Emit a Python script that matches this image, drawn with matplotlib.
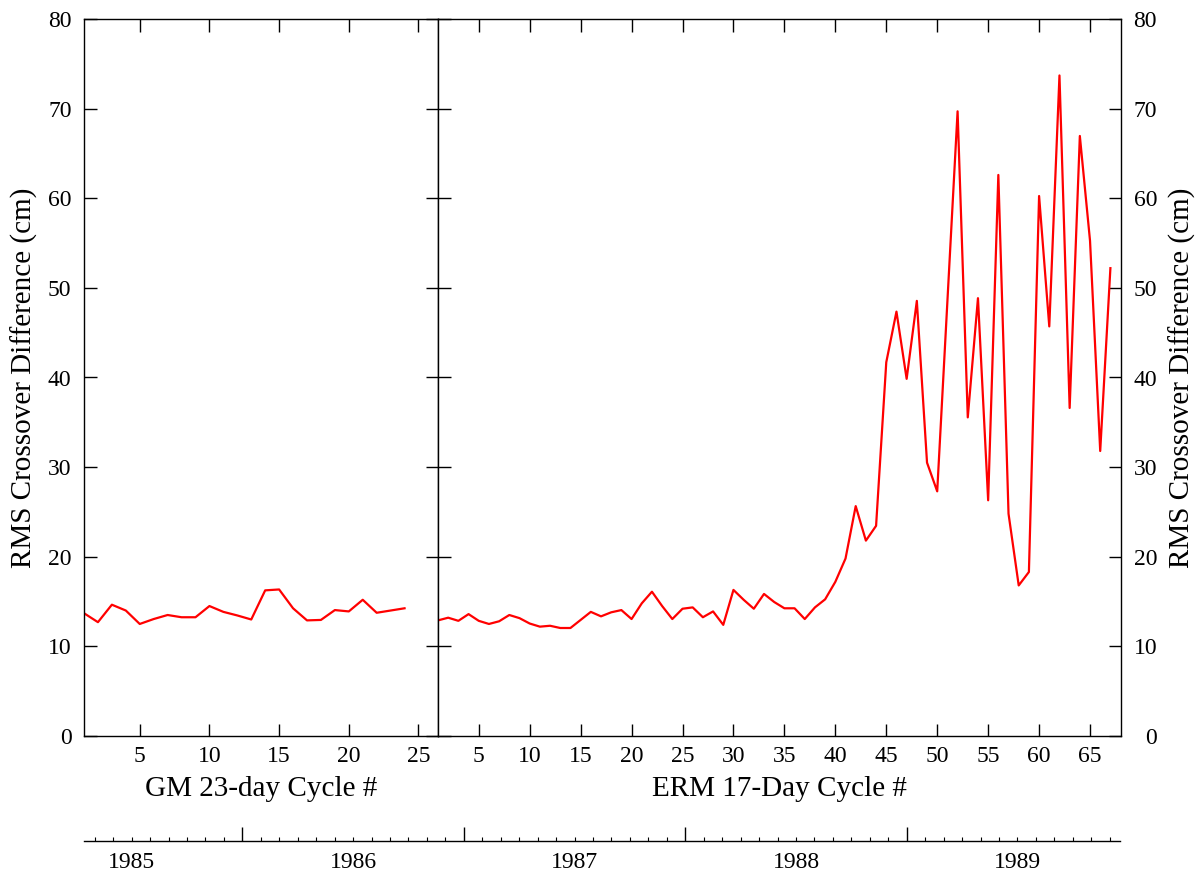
import matplotlib.pyplot as plt
from matplotlib.ticker import MultipleLocator

plt.rcParams['font.family'] = ['Liberation Serif', 'DejaVu Serif']

# GM 23-day cycles
gm_cycles = list(range(1, 25))
gm_rms = [13.7, 12.7, 14.65, 14.0, 12.5, 13.05, 13.5, 13.25, 13.25, 14.5,
          13.85, 13.45, 13.0, 16.25, 16.35, 14.25, 12.9, 12.95, 14.05, 13.9,
          15.2, 13.75, 14.0, 14.25]

# ERM 17-day cycles
erm_cycles = list(range(1, 68))
erm_rms = [12.9, 13.2, 12.85, 13.6, 12.85, 12.5, 12.8, 13.5, 13.15, 12.55,
           12.2, 12.3, 12.05, 12.05, 12.95, 13.85, 13.35, 13.8, 14.05, 13.05,
           14.8, 16.1, 14.5, 13.05, 14.2, 14.35, 13.25, 13.9, 12.4, 16.3,
           15.2, 14.2, 15.85, 14.95, 14.25, 14.25, 13.05, 14.35, 15.25, 17.2,
           19.8, 25.65, 21.8, 23.45, 41.7, 47.35, 39.85, 48.55, 30.5, 27.3,
           48.5, 69.7, 35.55, 48.85, 26.3, 62.6, 24.8, 16.8, 18.3, 60.25,
           45.7, 73.7, 36.6, 66.95, 55.25, 31.8, 52.2]

years = [1985, 1986, 1987, 1988, 1989]

FS = 17      # tick labels
LFS = 21     # axis titles
W, H = 1201, 872
fig = plt.figure(figsize=(W / 100, H / 100), dpi=100)

bot = 1 - 736 / H
top = 1 - 19 / H
ax1 = fig.add_axes([84 / W, bot, (438 - 84) / W, top - bot])
ax2 = fig.add_axes([438 / W, bot, (1121 - 438) / W, top - bot])

for ax in (ax1, ax2):
    ax.set_ylim(0, 80)
    ax.yaxis.set_major_locator(MultipleLocator(10))
    ax.xaxis.set_major_locator(MultipleLocator(5))
    ax.tick_params(which='both', direction='in', length=9, width=1,
                   top=True, bottom=True, left=True, right=True,
                   labelsize=FS, pad=7)
    for s in ax.spines.values():
        s.set_linewidth(1.0)

ax1.plot(gm_cycles, gm_rms, color='#ff0000', lw=1.6)
ax1.set_xlim(1, 26.4)
ax1.tick_params(axis='y', labelleft=True, labelright=False, pad=9)
ax1.set_xlabel('GM 23-day Cycle #', fontsize=LFS, labelpad=7)
ax1.set_ylabel('RMS Crossover Difference (cm)', fontsize=LFS, labelpad=7)

ax2.plot(erm_cycles, erm_rms, color='#ff0000', lw=1.6)
ax2.set_xlim(1, 68.04)
ax2.tick_params(axis='y', labelleft=False, labelright=True, pad=26)
for lbl in ax2.get_yticklabels():
    lbl.set_horizontalalignment('right')
ax2.yaxis.set_label_position('right')
ax2.set_ylabel('RMS Crossover Difference (cm)', fontsize=LFS, labelpad=8)
ax2.set_xlabel('ERM 17-Day Cycle #', fontsize=LFS, labelpad=7)

# time line underneath
ax3 = fig.add_axes([84 / W, 1 - 841 / H, (1120 - 84) / W, 0.0001])
ax3.set_xlim(1985.285, 1989.963)
ax3.set_ylim(0, 1)
for k in ('left', 'right', 'top'):
    ax3.spines[k].set_visible(False)
ax3.spines['bottom'].set_linewidth(1.0)
ax3.set_yticks([])
ax3.set_xticks(years[1:])
ax3.set_xticklabels([])
ax3.xaxis.set_minor_locator(MultipleLocator(1 / 12))
ax3.tick_params(axis='x', which='major', direction='in', length=10, width=1)
ax3.tick_params(axis='x', which='minor', direction='in', length=2.7, width=0.8)
for y in years:
    ax3.annotate(str(y), xy=(y + 0.5, 0), xycoords=('data', 'axes fraction'),
                 xytext=(0, -8), textcoords='offset points',
                 ha='center', va='top', fontsize=FS)

fig.savefig('out.png', dpi=100)
